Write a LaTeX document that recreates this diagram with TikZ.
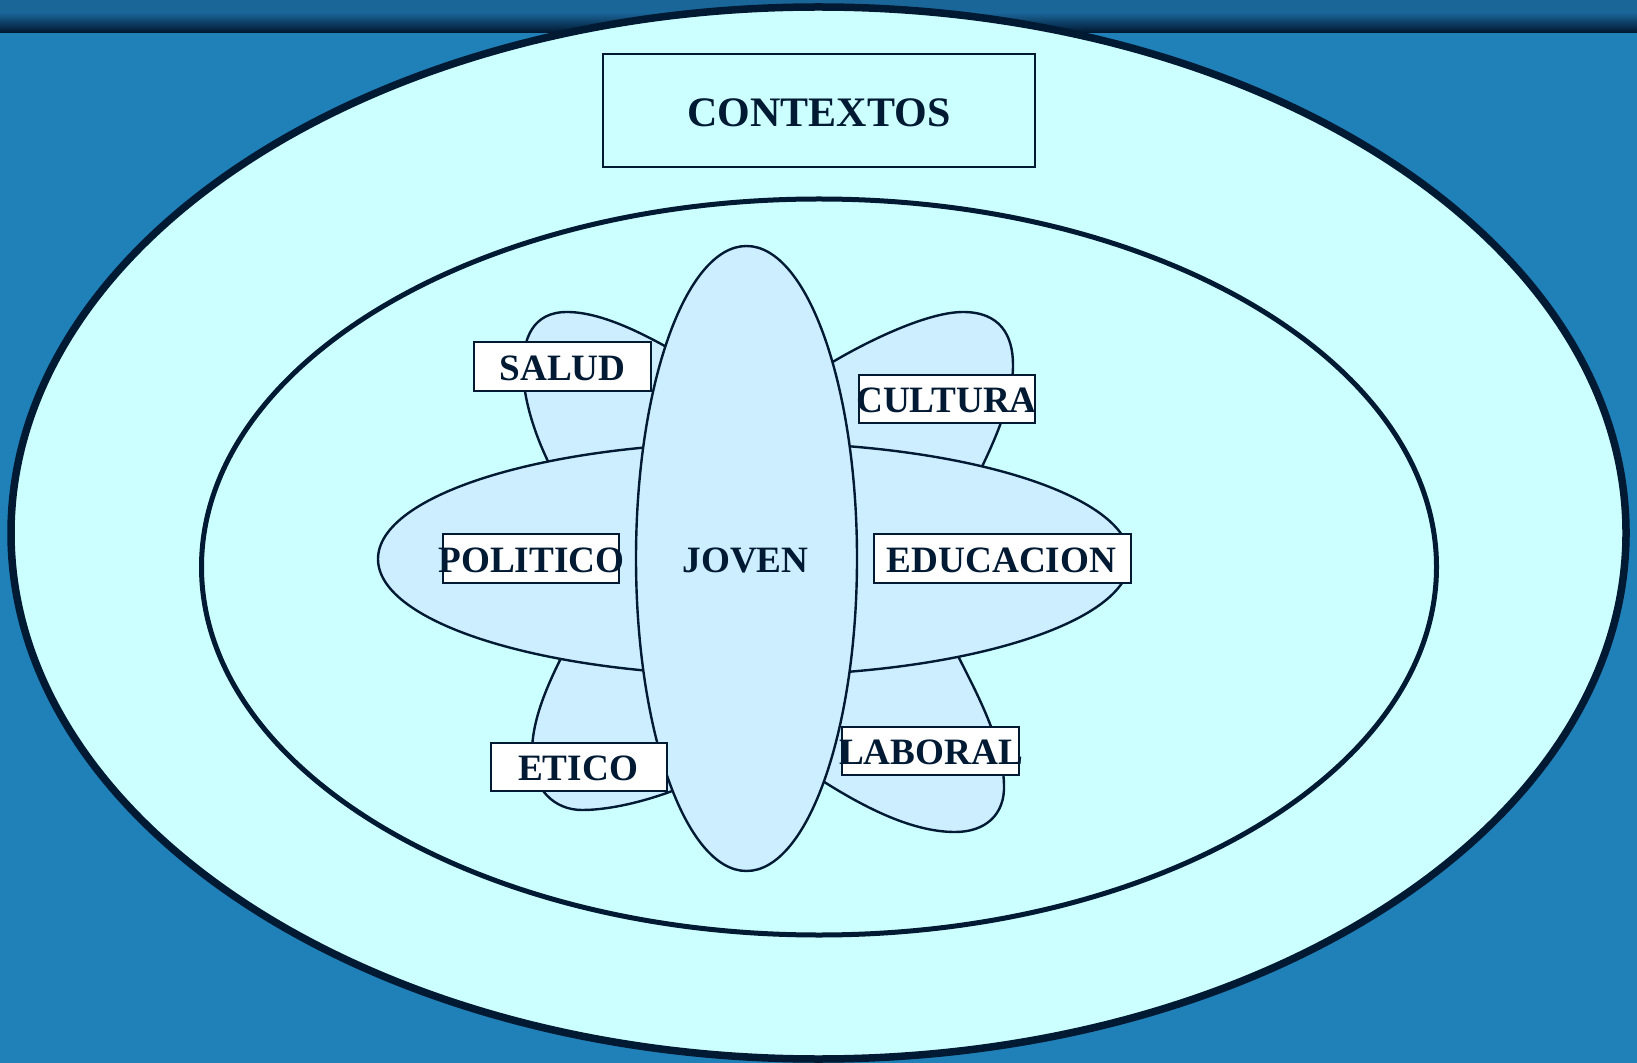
\documentclass[tikz,border=0pt]{standalone}
\usepackage{fontspec}
\setmainfont{Liberation Serif}
\definecolor{bgblue}{HTML}{2080B8}
\definecolor{barTop}{HTML}{1A6699}
\definecolor{barBot}{HTML}{00152E}
\definecolor{navy}{HTML}{001A33}
\definecolor{pale}{HTML}{CCFFFF}
\definecolor{petal}{HTML}{CCEEFF}
\begin{document}
\begin{tikzpicture}[x=0.5pt,y=-0.5pt,
  petalshape/.style={draw=navy, fill=petal, line width=1.2pt, line join=round},
  ring/.style={draw=navy, fill=pale},
  labelbox/.style={draw=navy, fill=white, line width=1pt, inner sep=0pt, outer sep=0pt},
  labeltext/.style={text=navy, font=\bfseries\fontsize{18.6}{20}\selectfont, inner sep=0pt},
]
\useasboundingbox (0,0) rectangle (1637,1063);
% background and top bar
\fill[bgblue] (0,0) rectangle (1637,1063);
\fill[barTop] (0,0) rectangle (1637,13);
\shade[top color=barTop, bottom color=barBot] (0,12.5) rectangle (1637,33);
% outer context ellipse
\draw[ring, line width=3.75pt] (818.5,533) ellipse [x radius=807.5, y radius=526];
\node[draw=navy, line width=1.2pt, minimum width=216pt, minimum height=56.5pt, inner sep=0pt] (ctxbox) at (819,110.5) {};
\node[text=navy, font=\bfseries\fontsize{21}{24}\selectfont, inner sep=0pt] (ctx) at (819,112.5) {CONTEXTOS};
% inner ellipse
\draw[ring, line width=2.5pt] (819,567) ellipse [x radius=617.5, y radius=368];
% petals
\draw[petalshape] (672,350) .. controls (640,332) and (600,312) .. (567,312)
  .. controls (533,312) and (523,338) .. (523,368)
  .. controls (523,400) and (536,440) .. (555,475) -- (700,520) -- cycle;
\draw[petalshape] (826,366) .. controls (860,345) and (925,312) .. (963,312)
  .. controls (1000,312) and (1013,335) .. (1013,365)
  .. controls (1013,400) and (995,440) .. (978,475) -- (800,520) -- cycle;
\draw[petalshape] (565,650) .. controls (550,680) and (533,715) .. (532,750)
  .. controls (531,790) and (555,810) .. (582,810)
  .. controls (612,810) and (650,800) .. (680,788) -- (700,650) -- cycle;
\draw[petalshape] (955,650) .. controls (975,690) and (1003,740) .. (1004,785)
  .. controls (1005,815) and (985,832) .. (955,832)
  .. controls (910,832) and (860,805) .. (818,778) -- (800,650) -- cycle;
% horizontal and vertical ellipses
\draw[petalshape] (754,559) ellipse [x radius=376, y radius=116.5];
\draw[petalshape] (746.5,558.5) ellipse [x radius=110.5, y radius=312.5];
\node[labeltext] (joven) at (745.5,560.5) {JOVEN};
% label boxes
\node[labelbox, minimum width=88.5pt, minimum height=24.5pt] (saludbox) at (562.5,366.5) {};
\node[labeltext] (salud) at (562.5,368) {SALUD};
\node[labelbox, minimum width=88pt, minimum height=24pt] (culturabox) at (947,399) {};
\node[labeltext] (cultura) at (946.5,400.5) {CULTURA};
\node[labelbox, minimum width=88pt, minimum height=24.5pt] (politicobox) at (531,558.5) {};
\node[labeltext] (politico) at (531.5,560.5) {POLITICO};
\node[labelbox, minimum width=128.5pt, minimum height=24.5pt] (educacionbox) at (1002.5,558.5) {};
\node[labeltext] (educacion) at (1001.5,560.5) {EDUCACION};
\node[labelbox, minimum width=88pt, minimum height=24pt] (eticobox) at (579,767) {};
\node[labeltext] (etico) at (578,768.5) {ETICO};
\node[labelbox, minimum width=88.5pt, minimum height=24pt] (laboralbox) at (930.5,751) {};
\node[labeltext] (laboral) at (931,752.5) {LABORAL};
\end{tikzpicture}
\end{document}
